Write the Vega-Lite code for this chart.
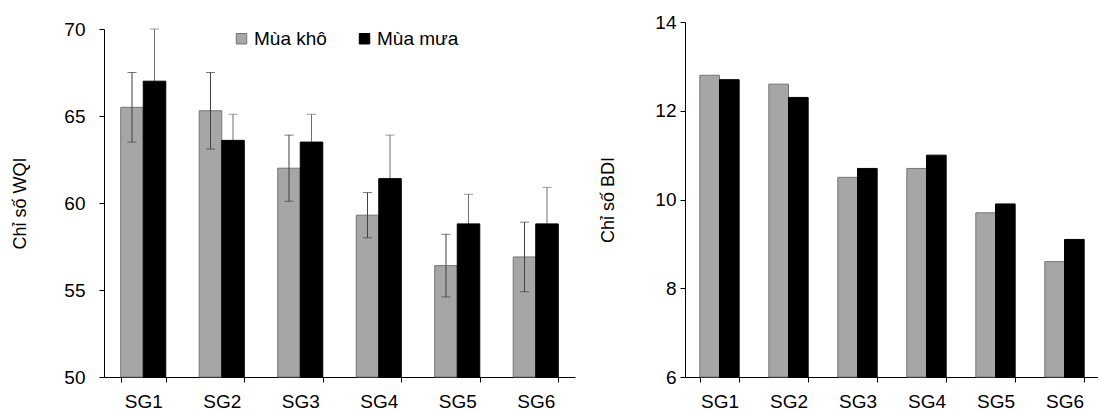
{
  "$schema": "https://vega.github.io/schema/vega-lite/v6.json",
  "background": "white",
  "padding": {"left": 11, "top": 13, "right": 0, "bottom": 0},
  "spacing": 24,
  "datasets": {
    "wqi": [
      {"site": "SG1", "season": "Mùa khô", "value": 65.5, "lo": 63.5, "hi": 67.5},
      {"site": "SG1", "season": "Mùa mưa", "value": 67.0, "lo": 64.0, "hi": 70.0},
      {"site": "SG2", "season": "Mùa khô", "value": 65.3, "lo": 63.1, "hi": 67.5},
      {"site": "SG2", "season": "Mùa mưa", "value": 63.6, "lo": 62.1, "hi": 65.1},
      {"site": "SG3", "season": "Mùa khô", "value": 62.0, "lo": 60.1, "hi": 63.9},
      {"site": "SG3", "season": "Mùa mưa", "value": 63.5, "lo": 61.9, "hi": 65.1},
      {"site": "SG4", "season": "Mùa khô", "value": 59.3, "lo": 58.0, "hi": 60.6},
      {"site": "SG4", "season": "Mùa mưa", "value": 61.4, "lo": 58.9, "hi": 63.9},
      {"site": "SG5", "season": "Mùa khô", "value": 56.4, "lo": 54.6, "hi": 58.2},
      {"site": "SG5", "season": "Mùa mưa", "value": 58.8, "lo": 57.1, "hi": 60.5},
      {"site": "SG6", "season": "Mùa khô", "value": 56.9, "lo": 54.9, "hi": 58.9},
      {"site": "SG6", "season": "Mùa mưa", "value": 58.8, "lo": 56.7, "hi": 60.9}
    ],
    "bdi": [
      {"site": "SG1", "season": "Mùa khô", "value": 12.8},
      {"site": "SG1", "season": "Mùa mưa", "value": 12.7},
      {"site": "SG2", "season": "Mùa khô", "value": 12.6},
      {"site": "SG2", "season": "Mùa mưa", "value": 12.3},
      {"site": "SG3", "season": "Mùa khô", "value": 10.5},
      {"site": "SG3", "season": "Mùa mưa", "value": 10.7},
      {"site": "SG4", "season": "Mùa khô", "value": 10.7},
      {"site": "SG4", "season": "Mùa mưa", "value": 11.0},
      {"site": "SG5", "season": "Mùa khô", "value": 9.7},
      {"site": "SG5", "season": "Mùa mưa", "value": 9.9},
      {"site": "SG6", "season": "Mùa khô", "value": 8.6},
      {"site": "SG6", "season": "Mùa mưa", "value": 9.1}
    ]
  },
  "hconcat": [
    {
      "width": 471,
      "height": 355,
      "data": {"name": "wqi"},
      "encoding": {
        "x": {
          "field": "site", "type": "nominal", "sort": null,
          "scale": {"paddingInner": 0.426, "paddingOuter": 0.213},
          "axis": {"title": null, "labelAngle": 0, "tickBand": "extent", "labelPadding": 10}
        },
        "xOffset": {
          "field": "season", "type": "nominal",
          "scale": {"domain": ["Mùa khô", "Mùa mưa"], "paddingInner": 0, "paddingOuter": 0}
        }
      },
      "layer": [
        {
          "transform": [{"filter": "datum.season === 'Mùa mưa'"}],
          "mark": {"type": "rule", "color": "#707070", "strokeWidth": 1},
          "encoding": {
            "y": {"field": "lo", "type": "quantitative", "title": "Chỉ số WQI",
              "scale": {"domain": [50, 70], "nice": false, "zero": false, "range": [355, 7]},
              "axis": {"values": [50, 55, 60, 65, 70], "labelPadding": 14, "titlePadding": 34}},
            "y2": {"field": "hi"}
          }
        },
        {
          "transform": [{"filter": "datum.season === 'Mùa mưa'"}],
          "mark": {"type": "tick", "color": "#707070", "thickness": 1, "size": 9, "orient": "horizontal"},
          "encoding": {
            "y": {"field": "hi", "type": "quantitative", "title": "Chỉ số WQI"}
          }
        },
        {
          "mark": {"type": "bar", "strokeWidth": 1},
          "encoding": {
            "y": {"field": "value", "type": "quantitative", "title": "Chỉ số WQI"},
            "y2": {"datum": 50},
            "color": {
              "field": "season", "type": "nominal",
              "scale": {"domain": ["Mùa khô", "Mùa mưa"], "range": ["#a6a6a6", "#000000"]},
              "legend": {
                "orient": "none", "legendX": 128, "legendY": 7, "direction": "horizontal",
                "title": null, "symbolType": "square", "symbolSize": 110,
                "symbolStrokeColor": "#555555", "symbolStrokeWidth": 1,
                "labelFontSize": 19, "labelFont": "Liberation Sans", "labelColor": "#000000",
                "labelOffset": 3, "columnPadding": 28, "padding": 0
              }
            },
            "stroke": {
              "field": "season", "type": "nominal",
              "scale": {"domain": ["Mùa khô", "Mùa mưa"], "range": ["#747474", "#000000"]},
              "legend": null
            }
          }
        },
        {
          "transform": [{"filter": "datum.season === 'Mùa khô'"}],
          "mark": {"type": "rule", "color": "#404040", "strokeWidth": 1},
          "encoding": {
            "y": {"field": "lo", "type": "quantitative", "title": "Chỉ số WQI"},
            "y2": {"field": "hi"}
          }
        },
        {
          "transform": [{"filter": "datum.season === 'Mùa khô'"}],
          "mark": {"type": "tick", "color": "#404040", "thickness": 1, "size": 9, "orient": "horizontal"},
          "encoding": {
            "y": {"field": "hi", "type": "quantitative", "title": "Chỉ số WQI"}
          }
        },
        {
          "transform": [{"filter": "datum.season === 'Mùa khô'"}],
          "mark": {"type": "tick", "color": "#404040", "thickness": 1, "size": 9, "orient": "horizontal"},
          "encoding": {
            "y": {"field": "lo", "type": "quantitative", "title": "Chỉ số WQI"}
          }
        }
      ]
    },
    {
      "width": 414,
      "height": 355,
      "data": {"name": "bdi"},
      "mark": {"type": "bar", "strokeWidth": 1},
      "encoding": {
        "x": {
          "field": "site", "type": "nominal", "sort": null,
          "scale": {"paddingInner": 0.43, "paddingOuter": 0.215},
          "axis": {"title": null, "labelAngle": 0, "tickBand": "extent", "labelPadding": 10}
        },
        "xOffset": {
          "field": "season", "type": "nominal",
          "scale": {"domain": ["Mùa khô", "Mùa mưa"], "paddingInner": 0, "paddingOuter": 0}
        },
        "y": {
          "field": "value", "type": "quantitative",
          "scale": {"domain": [6, 14], "nice": false, "zero": false},
          "axis": {"title": "Chỉ số BDI", "values": [6, 8, 10, 12, 14], "labelPadding": 4, "titlePadding": 37}
        },
        "y2": {"datum": 6},
        "color": {
          "field": "season", "type": "nominal",
          "scale": {"domain": ["Mùa khô", "Mùa mưa"], "range": ["#a6a6a6", "#000000"]},
          "legend": null
        },
        "stroke": {
          "field": "season", "type": "nominal",
          "scale": {"domain": ["Mùa khô", "Mùa mưa"], "range": ["#747474", "#000000"]},
          "legend": null
        }
      }
    }
  ],
  "resolve": {
    "scale": {"color": "independent", "stroke": "independent", "y": "independent", "x": "independent", "xOffset": "independent"},
    "legend": {"color": "independent", "stroke": "independent"}
  },
  "config": {
    "view": {"stroke": null},
    "font": "Liberation Sans",
    "axis": {
      "labelFont": "Liberation Sans", "titleFont": "Liberation Sans",
      "labelFontSize": 19, "titleFontSize": 18, "titleFontWeight": "normal",
      "labelColor": "#000000", "titleColor": "#000000",
      "domainColor": "#000000", "tickColor": "#000000",
      "domainWidth": 1, "tickWidth": 1, "tickSize": 5, "grid": false
    }
  }
}
